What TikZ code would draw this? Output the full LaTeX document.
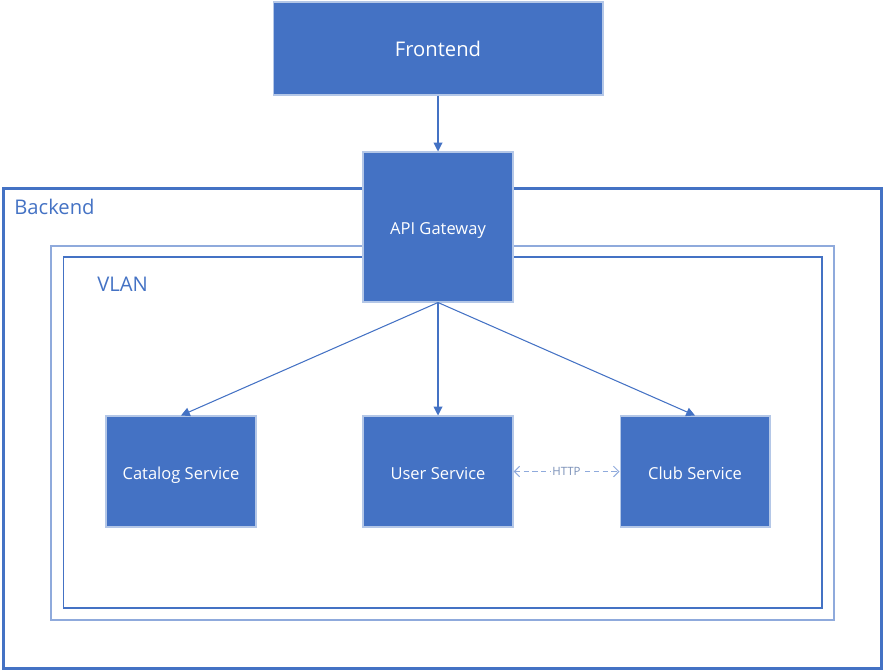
\documentclass[tikz,border=0pt]{standalone}
\usepackage{fontspec}
\setmainfont{Open Sans}
\usetikzlibrary{arrows.meta, positioning}
\definecolor{msblue}{HTML}{4472C4}
\definecolor{msltblue}{HTML}{8FAADC}
\definecolor{boxedge}{HTML}{B4C7E7}
\definecolor{httpgray}{HTML}{7A90B8}

\begin{document}
\begin{tikzpicture}[x=0.02cm, y=-0.02cm,
    svc/.style={draw=boxedge, line width=0.6pt, fill=msblue, text=white, font=\fontsize{9.4}{11}\selectfont,
                minimum width=3cm, minimum height=2.22cm, inner sep=0pt, text height=1.08em, text depth=0.22em},
    link/.style={draw=msblue, line width=0.6pt, -{Triangle[width=5pt, length=5pt]}},
    httplink/.style={draw=msltblue, line width=0.6pt, dashed, dash pattern=on 3pt off 2pt,
                     {Straight Barb[width=6pt, length=3pt]}-{Straight Barb[width=6pt, length=3pt]}}
  ]
    \useasboundingbox (0,0) rectangle (884,671);

    % containers
    \node[draw=msblue, line width=1.7pt, minimum width=17.58cm, minimum height=9.62cm, inner sep=0pt] (backend) at (442.5,428.5) {};
    \node[draw=msltblue, line width=1.2pt, minimum width=15.66cm, minimum height=7.48cm, inner sep=0pt] (vlanouter) at (442.5,433) {};
    \node[draw=msblue, line width=0.65pt, minimum width=15.18cm, minimum height=7.02cm, inner sep=0pt] (vlaninner) at (442.5,432.5) {};
    \node[anchor=west, text=msblue, font=\fontsize{11.5}{13}\selectfont, inner sep=0pt] (backendlbl) at (14,207) {Backend};
    \node[anchor=west, text=msblue, font=\fontsize{11.5}{13}\selectfont, inner sep=0pt] (vlanlbl) at (97,284) {VLAN};

    % boxes
    \node[svc, minimum width=6.6cm, minimum height=1.86cm, font=\fontsize{11.5}{13}\selectfont] (frontend) at (438,48.5) {Frontend};
    \node[svc, minimum height=3cm] (gateway) at (438,227) {API Gateway};
    \node[svc] (catalog) at (181,471.5) {Catalog Service};
    \node[svc] (user) at (438,471.5) {User Service};
    \node[svc] (club) at (695,471.5) {Club Service};

    % connectors
    \draw[link] (frontend) -- (gateway);
    \draw[link] (gateway.south) -- (catalog.north);
    \draw[link] (gateway.south) -- (user.north);
    \draw[link] (gateway.south) -- (club.north);
    \draw[httplink] (user) -- node[fill=white, inner sep=1pt, text=httpgray, font=\fontsize{6.5}{8}\selectfont] {HTTP} (club);
\end{tikzpicture}
\end{document}
